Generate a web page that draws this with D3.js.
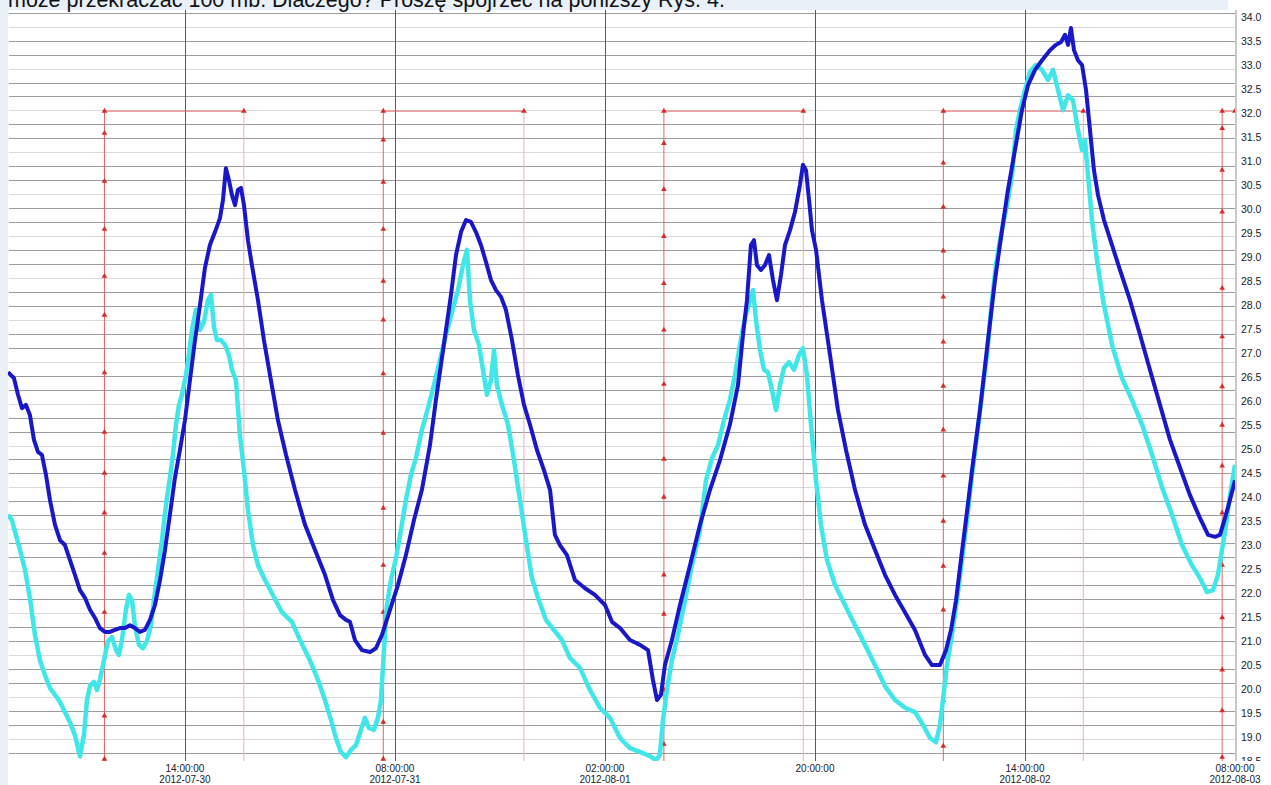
<!DOCTYPE html>
<html>
<head>
<meta charset="utf-8">
<script src="https://cdnjs.cloudflare.com/ajax/libs/d3/7.8.5/d3.min.js"></script>
<style>
  html, body { margin: 0; padding: 0; background: #fff; }
  #chart { width: 1271px; height: 785px; }
  text { font-family: "Liberation Sans", Arial, sans-serif; }
</style>
</head>
<body>
<div id="chart"></div>
<script>
const caption = "może przekraczać 100 mb. Dlaczego? Proszę spojrzeć na poniższy Rys. 4.";
const timeStart = "2012-07-29 22:50";
const timeEnd = "2012-08-03 08:00";
const xTickTimes = ["2012-07-30 14:00", "2012-07-31 08:00", "2012-08-01 02:00",
                    "2012-08-01 20:00", "2012-08-02 14:00", "2012-08-03 08:00"];
const yTicks = d3.range(18.5, 34.01, 0.5);

// [hours since 2012-07-30 00:00, temperature]
const tempBlue = [
  [-1.17, 26.61], [-0.66, 26.49], [-0.31, 26.14], [0.03, 25.86], [0.37, 25.93], [0.71, 25.72],
  [1.06, 25.20], [1.40, 24.95], [1.74, 24.89], [2.09, 24.47], [2.43, 23.95], [2.86, 23.43],
  [3.29, 23.11], [3.71, 23.01], [4.14, 22.70], [4.57, 22.39], [5.00, 22.07], [5.43, 21.91],
  [5.86, 21.66], [6.29, 21.49], [6.71, 21.28], [7.14, 21.20], [7.57, 21.20], [8.00, 21.24],
  [8.43, 21.28], [8.86, 21.28], [9.29, 21.34], [9.71, 21.28], [10.14, 21.20], [10.57, 21.24],
  [11.00, 21.45], [11.43, 21.76], [11.86, 22.28], [12.29, 22.91], [12.71, 23.64], [13.14, 24.41],
  [13.57, 24.99], [14.00, 25.61], [14.43, 26.45], [14.86, 27.28], [15.29, 28.01], [15.71, 28.78],
  [16.14, 29.26], [16.57, 29.53], [17.00, 29.82], [17.26, 30.20], [17.51, 30.86], [17.77, 30.61],
  [18.03, 30.30], [18.29, 30.09], [18.54, 30.41], [18.80, 30.45], [19.06, 30.09], [19.40, 29.36],
  [19.74, 28.84], [20.26, 28.11], [20.77, 27.28], [21.29, 26.55], [21.97, 25.61], [22.66, 24.89],
  [23.43, 24.16], [24.29, 23.43], [25.14, 22.91], [26.00, 22.39], [26.69, 21.86], [27.29, 21.55],
  [27.80, 21.45], [28.14, 21.41], [28.57, 21.03], [29.17, 20.82], [29.86, 20.78], [30.37, 20.86],
  [30.89, 21.14], [31.57, 21.66], [32.26, 22.18], [32.94, 22.80], [33.63, 23.53], [34.31, 24.16],
  [35.00, 25.09], [35.51, 26.03], [35.94, 26.76], [36.37, 27.49], [36.80, 28.22], [37.23, 29.05],
  [37.66, 29.53], [38.09, 29.78], [38.51, 29.74], [38.94, 29.53], [39.37, 29.26], [39.80, 28.91],
  [40.23, 28.53], [40.66, 28.32], [41.09, 28.18], [41.51, 27.91], [42.03, 27.28], [42.54, 26.55],
  [43.06, 25.93], [43.57, 25.52], [44.17, 24.99], [44.77, 24.57], [45.29, 24.16], [45.71, 23.22],
  [46.14, 23.01], [46.74, 22.80], [47.43, 22.28], [48.29, 22.11], [49.14, 21.97], [50.00, 21.76],
  [50.60, 21.41], [51.29, 21.28], [52.14, 21.03], [53.00, 20.93], [53.69, 20.82], [54.11, 20.20],
  [54.46, 19.78], [54.80, 19.89], [55.14, 20.51], [55.74, 21.03], [56.43, 21.76], [57.29, 22.59],
  [58.14, 23.43], [59.00, 24.16], [59.86, 24.78], [60.71, 25.52], [61.40, 26.34], [61.83, 27.39],
  [62.17, 28.11], [62.51, 29.26], [62.77, 29.36], [63.03, 28.84], [63.37, 28.74], [63.71, 28.84],
  [64.06, 29.05], [64.40, 28.53], [64.74, 28.11], [65.09, 28.64], [65.43, 29.26], [65.86, 29.57],
  [66.29, 29.95], [66.71, 30.51], [66.97, 30.93], [67.23, 30.82], [67.49, 30.20], [67.74, 29.57],
  [68.09, 29.16], [68.60, 28.11], [69.29, 26.97], [69.97, 25.82], [70.66, 24.99], [71.43, 24.16],
  [72.29, 23.43], [73.14, 22.91], [74.00, 22.39], [74.86, 21.97], [75.71, 21.61], [76.57, 21.24],
  [77.43, 20.72], [78.03, 20.51], [78.71, 20.51], [79.23, 20.82], [79.66, 21.24], [80.09, 21.86],
  [80.51, 22.70], [80.94, 23.53], [81.46, 24.57], [82.14, 25.82], [82.83, 27.28], [83.43, 28.53],
  [84.03, 29.57], [84.54, 30.41], [85.14, 31.24], [85.74, 32.07], [86.26, 32.59], [86.86, 32.91],
  [87.46, 33.11], [88.14, 33.32], [88.66, 33.43], [89.09, 33.49], [89.43, 33.64], [89.69, 33.43],
  [89.94, 33.78], [90.20, 33.32], [90.54, 33.11], [90.89, 33.01], [91.23, 32.49], [91.57, 31.66],
  [91.91, 30.82], [92.26, 30.30], [92.77, 29.78], [93.46, 29.26], [94.14, 28.74], [95.00, 28.11],
  [95.86, 27.39], [96.71, 26.66], [97.57, 25.93], [98.43, 25.20], [99.29, 24.62], [100.14, 24.05],
  [101.00, 23.57], [101.69, 23.22], [102.29, 23.18], [102.71, 23.22], [103.14, 23.57], [103.57, 23.95],
  [104.00, 24.36]
];

const tempCyan = [
  [-1.17, 23.64], [-0.83, 23.53], [-0.49, 23.22], [-0.14, 22.91], [0.29, 22.49], [0.71, 21.91],
  [1.14, 21.14], [1.57, 20.61], [2.00, 20.30], [2.43, 20.03], [2.86, 19.89], [3.29, 19.74],
  [3.71, 19.53], [4.14, 19.32], [4.57, 19.05], [5.00, 18.61], [5.34, 19.05], [5.60, 19.78],
  [5.86, 20.07], [6.20, 20.16], [6.46, 19.99], [6.71, 20.20], [7.06, 20.61], [7.40, 21.01],
  [7.74, 21.09], [8.09, 20.82], [8.34, 20.72], [8.60, 21.03], [8.94, 21.66], [9.20, 21.97],
  [9.46, 21.86], [9.71, 21.34], [10.06, 20.93], [10.40, 20.86], [10.74, 21.01], [11.09, 21.34],
  [11.34, 21.86], [11.69, 22.49], [12.03, 23.11], [12.37, 23.84], [12.71, 24.41], [12.97, 24.89],
  [13.23, 25.52], [13.49, 25.93], [13.74, 26.14], [14.09, 26.55], [14.34, 26.97], [14.60, 27.49],
  [14.94, 27.91], [15.29, 27.49], [15.63, 27.66], [15.97, 28.11], [16.23, 28.22], [16.49, 27.55],
  [16.74, 27.28], [17.09, 27.28], [17.43, 27.18], [17.77, 26.97], [18.03, 26.66], [18.37, 26.45],
  [18.71, 25.30], [19.06, 24.57], [19.40, 23.74], [19.83, 23.01], [20.26, 22.59], [20.86, 22.28],
  [21.54, 21.97], [22.31, 21.61], [23.17, 21.41], [23.86, 21.03], [24.71, 20.61], [25.40, 20.20],
  [26.00, 19.78], [26.52, 19.36], [26.94, 18.99], [27.37, 18.70], [27.80, 18.59], [28.23, 18.74],
  [28.66, 18.84], [29.09, 19.16], [29.43, 19.41], [29.77, 19.20], [30.20, 19.16], [30.54, 19.41],
  [30.80, 19.78], [31.06, 20.82], [31.31, 21.76], [31.66, 22.28], [32.09, 22.74], [32.51, 23.32],
  [32.94, 23.95], [33.37, 24.47], [33.80, 24.82], [34.31, 25.41], [34.83, 25.86], [35.34, 26.34],
  [35.86, 26.86], [36.37, 27.39], [36.89, 27.86], [37.40, 28.32], [37.83, 28.84], [38.17, 29.16],
  [38.43, 28.11], [38.77, 27.49], [39.20, 27.18], [39.54, 26.66], [39.89, 26.14], [40.23, 26.45],
  [40.49, 27.07], [40.74, 26.34], [41.17, 25.93], [41.69, 25.52], [42.20, 24.78], [42.71, 23.95],
  [43.23, 23.11], [43.74, 22.32], [44.26, 21.91], [44.94, 21.45], [45.63, 21.24], [46.31, 21.03],
  [46.99, 20.66], [47.86, 20.45], [48.71, 19.99], [49.57, 19.62], [50.43, 19.41], [51.29, 18.99],
  [52.14, 18.78], [53.00, 18.70], [53.86, 18.61], [54.37, 18.53], [54.71, 18.64], [54.97, 19.36],
  [55.31, 19.99], [55.74, 20.61], [56.26, 21.14], [56.86, 21.86], [57.46, 22.59], [58.14, 23.32],
  [58.66, 24.36], [59.17, 24.82], [59.69, 25.09], [60.20, 25.61], [60.71, 26.03], [61.14, 26.55],
  [61.57, 27.18], [62.00, 27.74], [62.43, 28.11], [62.69, 28.32], [62.94, 27.70], [63.29, 27.07],
  [63.63, 26.66], [63.97, 26.61], [64.31, 26.24], [64.66, 25.82], [65.00, 26.34], [65.34, 26.70],
  [65.77, 26.82], [66.20, 26.66], [66.63, 26.97], [66.97, 27.11], [67.31, 26.55], [67.66, 25.52],
  [68.09, 24.36], [68.51, 23.43], [69.03, 22.70], [69.71, 22.18], [70.57, 21.76], [71.43, 21.34],
  [72.29, 20.93], [73.14, 20.51], [74.00, 20.07], [74.86, 19.78], [75.71, 19.62], [76.57, 19.53],
  [77.26, 19.26], [77.86, 18.99], [78.37, 18.90], [78.71, 19.26], [78.97, 19.78], [79.31, 20.51],
  [79.74, 21.14], [80.17, 21.86], [80.60, 22.70], [81.03, 23.53], [81.46, 24.47], [81.89, 25.30],
  [82.31, 26.14], [82.74, 26.97], [83.17, 28.11], [83.51, 28.84], [83.86, 29.36], [84.20, 29.78],
  [84.54, 30.20], [84.89, 30.72], [85.23, 31.66], [85.57, 32.07], [86.00, 32.49], [86.43, 32.87],
  [86.94, 33.01], [87.46, 32.91], [87.97, 32.70], [88.40, 32.91], [88.83, 32.49], [89.26, 32.07],
  [89.69, 32.38], [90.11, 32.28], [90.54, 31.66], [90.89, 31.24], [91.14, 31.45], [91.40, 30.72],
  [91.74, 29.78], [92.17, 28.95], [92.69, 28.11], [93.46, 27.18], [94.31, 26.49], [95.17, 26.03],
  [96.03, 25.52], [96.89, 24.89], [97.74, 24.22], [98.60, 23.64], [99.46, 23.01], [100.31, 22.59],
  [101.00, 22.32], [101.60, 22.03], [102.11, 22.07], [102.54, 22.39], [102.89, 22.91], [103.23, 23.43],
  [103.57, 24.05], [104.00, 24.68]
];

// red day/night series: switch times (rise, set, rise, ...) and the readings along each rise
const sunEdges = [7.1, 19.05, 31.0, 43.05, 55.05, 67.0, 79.0, 91.0, 102.9];
const sunHigh = 32.05;
const sunLow = 18.3;
const riseMarks = [
  [32.05, 31.59, 30.59, 29.59, 28.61, 27.80, 26.60, 25.36, 24.51, 23.68, 22.84, 21.61, 19.45, 18.55],
  [32.05, 31.45, 30.57, 29.59, 28.51, 27.70, 26.58, 25.34, 23.78, 22.59, 21.61, 19.32, 18.55],
  [32.05, 31.38, 30.42, 29.44, 28.46, 27.49, 26.36, 24.80, 24.01, 22.39, 21.57, 19.99, 18.86],
  [32.05, 30.97, 30.05, 29.14, 28.18, 27.24, 26.32, 25.41, 24.45, 23.51, 22.57, 21.66, 20.68, 19.78, 18.82],
  [32.05, 31.69, 30.82, 29.95, 28.36, 27.35, 26.31, 25.51, 24.66, 23.68, 22.59, 21.50, 20.41, 19.56, 18.59]
];

const W = 1271, H = 785;
const plotL = 8, plotR = 1235, plotT = 10, plotB = 761;

const parseTime = d3.timeParse("%Y-%m-%d %H:%M");
const baseDate = new Date(2012, 6, 30);
const atHour = h => new Date(baseDate.getTime() + h * 3600e3);

const svg = d3.select("#chart").append("svg")
  .attr("width", W).attr("height", H)
  .style("display", "block");

svg.append("rect").attr("width", W).attr("height", H).attr("fill", "#fff");

const x = d3.scaleTime()
  .domain([parseTime(timeStart), parseTime(timeEnd)])
  .range([plotL, plotR]);
const y = d3.scaleLinear().domain([18.5, 34]).range([761.5, 17.5]);

// the chart's cropped left axis only leaves its grid behind
const gridY = d3.scaleLinear().domain([0, 53]).range([752.7, 12.7]);

svg.append("defs").append("clipPath").attr("id", "plotClip")
  .append("rect").attr("x", plotL).attr("y", plotT)
  .attr("width", plotR - plotL + 1).attr("height", plotB - plotT);

// horizontal grid
svg.append("g").selectAll("line")
  .data(d3.range(54))
  .join("line")
  .attr("x1", plotL + 1).attr("x2", plotR)
  .attr("y1", d => Math.round(gridY(d)) + 0.5)
  .attr("y2", d => Math.round(gridY(d)) + 0.5)
  .attr("stroke", d => d % 3 === 1 ? "#dadada" : "#9c9c9c")
  .attr("stroke-width", 1);

// vertical grid at time ticks
const tickDates = xTickTimes.map(parseTime);
svg.append("g").selectAll("line")
  .data(tickDates.slice(0, -1))
  .join("line")
  .attr("x1", d => Math.round(x(d)) + 0.5).attr("x2", d => Math.round(x(d)) + 0.5)
  .attr("y1", plotT).attr("y2", plotB)
  .attr("stroke", "#5a5a5a").attr("stroke-width", 1);

const plot = svg.append("g").attr("clip-path", "url(#plotClip)");

// red day/night step series
const sunPts = [[-1.17, sunLow]];
sunEdges.forEach((e, i) => {
  if (i % 2 === 0) sunPts.push([e, sunLow], [e, sunHigh]);
  else sunPts.push([e, sunHigh], [e, sunLow]);
});
sunPts.push([104, sunHigh]);

plot.append("g").selectAll("line")
  .data(d3.pairs(sunPts))
  .join("line")
  .attr("x1", d => x(atHour(d[0][0]))).attr("x2", d => x(atHour(d[1][0])))
  .attr("y1", d => y(d[0][1])).attr("y2", d => y(d[1][1]))
  .attr("stroke", d => (d[0][0] === d[1][0] && d[0][1] > d[1][1]) ? "#f2b0b0" : "#e26464")
  .attr("stroke-width", 1);

const sunMarks = [];
sunEdges.forEach((e, i) => {
  if (i % 2 === 0) riseMarks[i / 2].forEach(v => sunMarks.push([e, v]));
  else sunMarks.push([e, sunHigh]);
});
sunMarks.push([104, sunHigh]);

const tri = d3.symbol(d3.symbolTriangle, 14);
plot.append("g").selectAll("path")
  .data(sunMarks)
  .join("path")
  .attr("d", tri)
  .attr("transform", d => `translate(${x(atHour(d[0]))},${y(d[1])})`)
  .attr("fill", "#d92a2a");

const line = d3.line()
  .x(d => x(atHour(d[0])))
  .y(d => y(d[1]))
  .curve(d3.curveLinear);

plot.append("path")
  .datum(tempCyan)
  .attr("d", line)
  .attr("fill", "none")
  .attr("stroke", "#40e6e8")
  .attr("stroke-width", 4.5)
  .attr("stroke-linejoin", "round");

plot.append("path")
  .datum(tempBlue)
  .attr("d", line)
  .attr("fill", "none")
  .attr("stroke", "#1818ca")
  .attr("stroke-width", 4)
  .attr("stroke-linejoin", "round");

// right temperature axis
svg.append("line")
  .attr("x1", plotR + 1).attr("x2", plotR + 1)
  .attr("y1", plotT).attr("y2", plotB)
  .attr("stroke", "#c8c8c8").attr("stroke-width", 2);

const yAxis = d3.axisRight(y)
  .tickValues(yTicks)
  .tickSize(0)
  .tickPadding(5)
  .tickFormat(d3.format(".1f"));

svg.append("g")
  .attr("transform", `translate(${plotR + 1},0)`)
  .call(yAxis)
  .call(g => g.select(".domain").remove())
  .call(g => g.selectAll("text")
    .attr("font-family", "'Liberation Sans', Arial, sans-serif")
    .attr("font-size", 10.5)
    .attr("fill", "#222"));

// bottom label band
svg.append("rect")
  .attr("x", plotL).attr("y", plotB)
  .attr("width", W - plotL).attr("height", H - plotB)
  .attr("fill", "#fff");

const fmtTime = d3.timeFormat("%H:%M:%S");
const fmtDay = d3.timeFormat("%Y-%m-%d");
const xLab = svg.append("g").selectAll("g")
  .data(tickDates)
  .join("g")
  .attr("transform", d => `translate(${x(d)},0)`);
xLab.append("text")
  .attr("y", 772).attr("text-anchor", "middle")
  .attr("font-size", 10).attr("fill", "#222")
  .text(d => fmtTime(d));
xLab.append("text")
  .attr("y", 783).attr("text-anchor", "middle")
  .attr("font-size", 10).attr("fill", "#222")
  .text((d, i) => (i === 0 || fmtDay(d) !== fmtDay(tickDates[i - 1])) ? fmtDay(d) : "");

// page surroundings of the cropped screenshot
svg.append("rect").attr("x", 0).attr("y", 0).attr("width", plotL).attr("height", H).attr("fill", "#e9f0f8");
svg.append("rect").attr("x", 0).attr("y", 0).attr("width", 1228).attr("height", plotT).attr("fill", "#e9f0f8");
svg.append("text")
  .attr("x", 8).attr("y", 6.5)
  .attr("font-size", 21.5).attr("fill", "#111")
  .text(caption);
</script>
</body>
</html>
